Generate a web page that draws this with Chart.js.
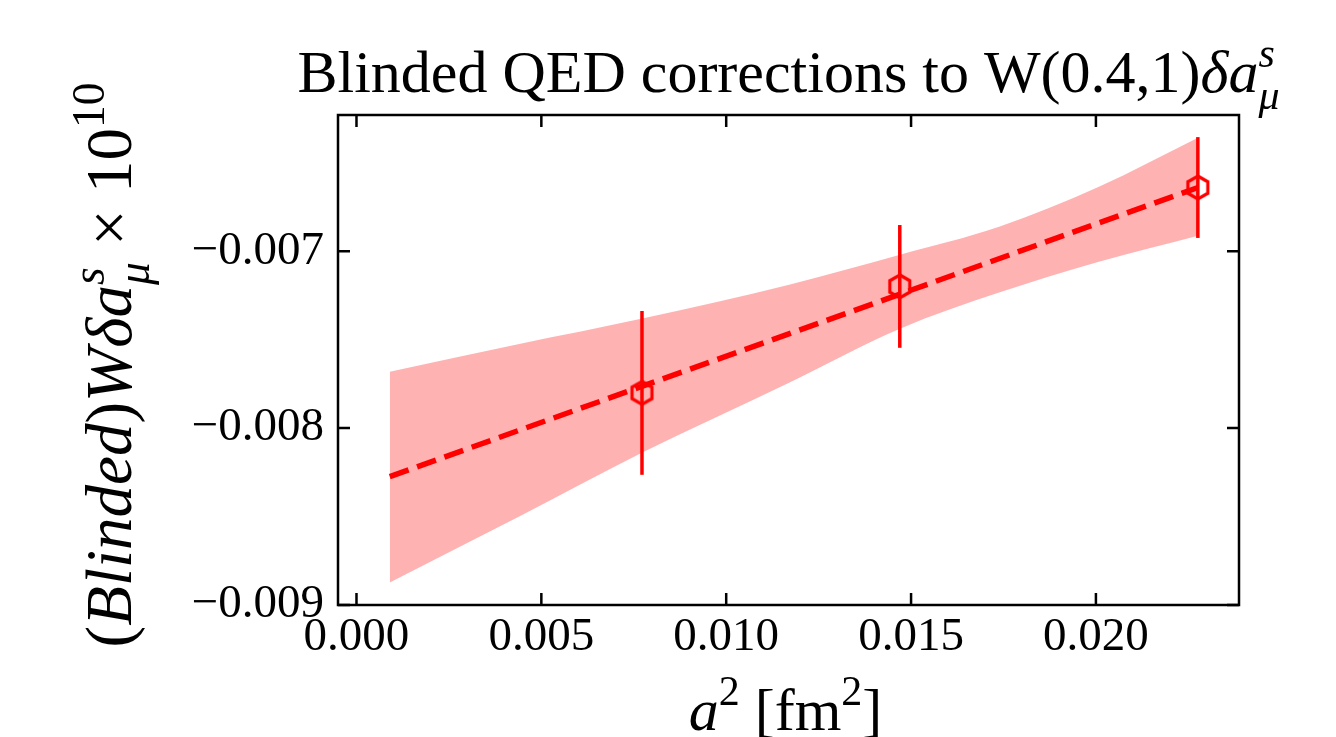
<!DOCTYPE html>
<html>
<head>
<meta charset="utf-8">
<script src="https://cdn.jsdelivr.net/npm/chart.js@4.4.1/dist/chart.umd.min.js"></script>
<style>
  html, body { margin: 0; padding: 0; background: #fff; }
  #wrap { width: 1336px; height: 737px; }
</style>
</head>
<body>
<div id="wrap"><canvas id="chart" width="1336" height="737"></canvas></div>
<script>
// Data points (a^2 in fm^2, blinded values)
const xVals = [0.007722, 0.014695, 0.022757];
const yVals = [-0.007801, -0.007199, -0.006640];
const yErr = [0.000463, 0.000347, 0.000285];

// Fit line
const fitX = [0.0009, 0.02276];
const fitY = [-0.008274, -0.006640];

// Fit error band
const bandX = [0.0009, 0.0044, 0.00773, 0.0117, 0.0147, 0.01738, 0.02008, 0.02276];
const bandUpper = [-0.007681, -0.007525, -0.007381, -0.007189, -0.007020, -0.006862, -0.006636, -0.006359];
const bandLower = [-0.008873, -0.008500, -0.008138, -0.007743, -0.007438, -0.007234, -0.007059, -0.006912];

// Ticks
const xTicks = [0, 0.005, 0.010, 0.015, 0.020];
const yTicks = [-0.009, -0.008, -0.007];

const RED = '#ff0000';
const SERIF = '"Liberation Serif", "DejaVu Serif", serif';

// open hexagon marker (pointy top)
function hexMarker(r, lw) {
  const c = document.createElement('canvas');
  const s = Math.ceil(2 * r + lw + 4);
  c.width = s; c.height = s;
  const g = c.getContext('2d');
  g.strokeStyle = RED;
  g.lineWidth = lw;
  g.lineJoin = 'miter';
  g.beginPath();
  for (let i = 0; i < 6; i++) {
    const a = -Math.PI / 2 + i * Math.PI / 3;
    const px = s / 2 + r * Math.cos(a), py = s / 2 + r * Math.sin(a);
    i ? g.lineTo(px, py) : g.moveTo(px, py);
  }
  g.closePath();
  g.stroke();
  return c;
}

// text with italic parts, superscripts and subscripts
function drawRich(ctx, parts, size, x, y, rotate) {
  const items = [];
  let pos = 0, prevStart = 0, prevW = 0;
  parts.forEach(p => {
    const fs = (p.sup || p.sub) ? size * 0.7 : size;
    const font = (p.it ? 'italic ' : '') + fs + 'px ' + SERIF;
    ctx.font = font;
    const w = ctx.measureText(p.t).width;
    const dy = p.sup ? -0.42 * size : (p.sub ? 0.28 * size : 0);
    if (p.back) {
      items.push({ t: p.t, font, x: prevStart, dy });
      pos = Math.max(prevStart + prevW, prevStart + w);
    } else {
      items.push({ t: p.t, font, x: pos, dy });
      prevStart = pos; prevW = w;
      pos += w;
    }
  });
  ctx.save();
  ctx.translate(x, y);
  if (rotate) ctx.rotate(-Math.PI / 2);
  ctx.fillStyle = '#000';
  ctx.textBaseline = 'alphabetic';
  ctx.textAlign = 'left';
  items.forEach(it => {
    ctx.font = it.font;
    ctx.fillText(it.t, it.x - pos / 2, it.dy);
  });
  ctx.restore();
}

const titleParts = [
  { t: 'Blinded QED corrections to W(0.4,1)' },
  { t: 'δ', it: 1 }, { t: 'a', it: 1 },
  { t: 's', it: 1, sup: 1 }, { t: 'μ', it: 1, sub: 1, back: 1 }
];
const yLabelParts = [
  { t: '(' }, { t: 'Blinded', it: 1 }, { t: ')' },
  { t: 'W', it: 1 }, { t: 'δ', it: 1 }, { t: 'a', it: 1 },
  { t: 's', it: 1, sup: 1 }, { t: 'μ', it: 1, sub: 1, back: 1 },
  { t: ' × ' }, { t: '10' }, { t: '10', sup: 1 }
];
const xLabelParts = [
  { t: 'a', it: 1 }, { t: '2', sup: 1 }, { t: ' [fm' }, { t: '2', sup: 1 }, { t: ']' }
];

// frame with inward ticks on all four sides, plus titles
const framePlugin = {
  id: 'frame',
  afterDatasetsDraw(chart) {
    const { ctx, chartArea: a, scales: { x, y } } = chart;
    ctx.save();
    ctx.strokeStyle = '#000';
    ctx.lineWidth = 2.5;
    ctx.strokeRect(a.left, a.top, a.right - a.left, a.bottom - a.top);
    const tl = 12;
    ctx.beginPath();
    xTicks.forEach(v => {
      const px = x.getPixelForValue(v);
      ctx.moveTo(px, a.bottom); ctx.lineTo(px, a.bottom - tl);
      ctx.moveTo(px, a.top); ctx.lineTo(px, a.top + tl);
    });
    yTicks.forEach(v => {
      const py = y.getPixelForValue(v);
      ctx.moveTo(a.left, py); ctx.lineTo(a.left + tl, py);
      ctx.moveTo(a.right, py); ctx.lineTo(a.right - tl, py);
    });
    ctx.stroke();
    ctx.restore();
  },
  afterDraw(chart) {
    const { ctx, chartArea: a } = chart;
    const cx = (a.left + a.right) / 2;
    const cy = (a.top + a.bottom) / 2;
    drawRich(ctx, titleParts, 60, cx, 92, false);
    drawRich(ctx, xLabelParts, 60, cx - 3, 730, false);
    drawRich(ctx, yLabelParts, 65, 131, cy + 5, true);
  }
};

const errorSets = xVals.map((xv, i) => ({
  data: [{ x: xv, y: yVals[i] - yErr[i] }, { x: xv, y: yVals[i] + yErr[i] }],
  borderColor: RED,
  borderWidth: 3.5,
  pointRadius: 0,
  fill: false,
  order: 1
}));

new Chart(document.getElementById('chart'), {
  type: 'line',
  data: {
    datasets: [
      {
        data: bandX.map((v, i) => ({ x: v, y: bandUpper[i] })),
        borderWidth: 0,
        borderColor: 'rgba(0,0,0,0)',
        backgroundColor: 'rgba(255,0,0,0.3)',
        pointRadius: 0,
        cubicInterpolationMode: 'monotone',
        fill: '+1',
        order: 3
      },
      {
        data: bandX.map((v, i) => ({ x: v, y: bandLower[i] })),
        borderWidth: 0,
        borderColor: 'rgba(0,0,0,0)',
        pointRadius: 0,
        cubicInterpolationMode: 'monotone',
        fill: false,
        order: 3
      },
      {
        data: fitX.map((v, i) => ({ x: v, y: fitY[i] })),
        borderColor: RED,
        borderWidth: 5.5,
        borderDash: [20, 9],
        pointRadius: 0,
        fill: false,
        order: 2
      },
      ...errorSets,
      {
        data: xVals.map((v, i) => ({ x: v, y: yVals[i] })),
        showLine: false,
        pointStyle: hexMarker(11.5, 3.2),
        pointRadius: 12,
        fill: false,
        order: 0
      }
    ]
  },
  options: {
    responsive: false,
    animation: false,
    events: [],
    layout: { padding: { left: 0, right: 97, top: 115, bottom: 0 } },
    plugins: { legend: { display: false }, tooltip: { enabled: false }, title: { display: false } },
    scales: {
      x: {
        type: 'linear',
        min: -0.0005,
        max: 0.02387,
        grid: { display: false },
        border: { display: false },
        afterBuildTicks: s => { s.ticks = xTicks.map(v => ({ value: v })); },
        afterFit: s => { s.height = 132; },
        ticks: {
          color: '#000',
          padding: -4,
          maxRotation: 0,
          autoSkip: false,
          font: { family: SERIF, size: 47 },
          callback: v => v.toFixed(3)
        }
      },
      y: {
        type: 'linear',
        min: -0.009,
        max: -0.00623,
        grid: { display: false },
        border: { display: false },
        afterBuildTicks: s => { s.ticks = yTicks.map(v => ({ value: v })); },
        afterFit: s => { s.width = 338; },
        ticks: {
          color: '#000',
          padding: 6,
          autoSkip: false,
          font: { family: SERIF, size: 47 },
          callback: v => '\u2212' + Math.abs(v).toFixed(3)
        }
      }
    }
  },
  plugins: [framePlugin]
});
</script>
</body>
</html>
